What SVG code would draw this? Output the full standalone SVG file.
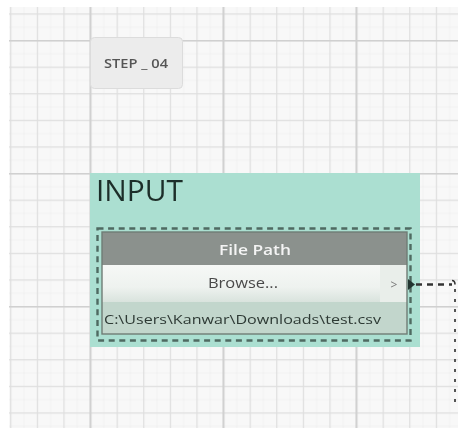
<svg xmlns="http://www.w3.org/2000/svg" width="458" height="428" viewBox="0 0 458 428">
  <defs>
    <pattern id="gridMinor" patternUnits="userSpaceOnUse" x="10.2" y="13.4" width="26.6" height="26.6">
      <path d="M0 13.8H26.6M13.8 0V26.6" fill="none" stroke="#f1f1f1" stroke-width="1"/>
      <path d="M0 0.5H26.6M0.5 0V26.6" fill="none" stroke="#dedede" stroke-width="1.4"/>
    </pattern>
    <pattern id="gridMajor" patternUnits="userSpaceOnUse" x="10.2" y="40" width="133" height="133">
      <path d="M0 0.5H133M80.3 0V133" fill="none" stroke="#d0d0d0" stroke-width="2"/>
    </pattern>
    <linearGradient id="browseFill" x1="0" y1="0" x2="0" y2="1">
      <stop offset="0" stop-color="#f6f8f6"/>
      <stop offset="0.6" stop-color="#eef2ef"/>
      <stop offset="1" stop-color="#d9e3dd"/>
    </linearGradient>
    <filter id="soft" x="-5%" y="-5%" width="110%" height="110%">
      <feGaussianBlur stdDeviation="0.6"/>
    </filter>
  </defs>
  <style>
    .lbl { font-family: "Open Sans", "Liberation Sans", sans-serif; }
    .dash { fill: none; stroke: #4f6a61; stroke-width: 2.4; stroke-dasharray: 6 4.6; }
  </style>

  <!-- canvas -->
  <rect x="0" y="0" width="458" height="428" fill="#ffffff"/>
  <rect x="9" y="7" width="449" height="421" fill="#f8f8f8"/>
  <rect x="9" y="7" width="449" height="421" fill="url(#gridMinor)"/>
  <rect x="9" y="7" width="449" height="421" fill="url(#gridMajor)"/>

  <!-- note -->
  <g id="step-note">
    <rect x="90.5" y="37.5" width="92" height="51" rx="4" fill="#ececec" stroke="#dcdcdc" stroke-width="1"/>
    <text class="lbl" x="104" y="68" font-size="12.5" font-weight="600" fill="#555" textLength="64" lengthAdjust="spacingAndGlyphs" filter="url(#soft)">STEP _ 04</text>
  </g>

  <!-- group -->
  <g id="input-group">
    <rect x="90" y="173" width="330" height="174" fill="#abdfd1"/>
    <text class="lbl" x="96" y="201" font-size="30" fill="#1e2f29" textLength="87" lengthAdjust="spacingAndGlyphs" filter="url(#soft)">INPUT</text>
  </g>

  <!-- node -->
  <g id="file-path-node">
    <rect x="97.5" y="228.5" width="313" height="112" class="dash"/>
    <rect x="102" y="232" width="305" height="33" fill="#8b918d"/>
    <text class="lbl" x="219" y="255" font-size="15" font-weight="600" fill="#f4f4f4" textLength="72" lengthAdjust="spacingAndGlyphs" filter="url(#soft)">File Path</text>
    <rect x="102" y="265" width="305" height="37" fill="url(#browseFill)"/>
    <rect x="380" y="265" width="27" height="37" fill="#e9eeea"/>
    <text class="lbl" x="208" y="288" font-size="14.5" fill="#4a4a4a" textLength="70" lengthAdjust="spacingAndGlyphs" filter="url(#soft)">Browse...</text>
    <text class="lbl" x="394" y="289" font-size="12" fill="#7a7a7a" text-anchor="middle" filter="url(#soft)">&gt;</text>
    <rect x="102" y="302" width="305" height="32" fill="#c2d6cc"/>
    <text class="lbl" x="104" y="324" font-size="12.5" fill="#2e3a35" textLength="277" lengthAdjust="spacingAndGlyphs" filter="url(#soft)">C:\Users\Kanwar\Downloads\test.csv</text>
    <rect x="102" y="232" width="305" height="102" fill="none" stroke="#6f7c75" stroke-width="1.4"/>
  </g>

  <!-- connectors -->
  <g id="connectors">
    <path d="M408 279L415 284.5L408 290Z" fill="#223530"/>
    <path d="M416 284.5H452" fill="none" stroke="#333" stroke-width="2.4" stroke-dasharray="6 5"/>
    <path d="M452 280.5Q455 280.5 455 284.5" fill="none" stroke="#333" stroke-width="1.6"/>
    <path d="M455 289V406" fill="none" stroke="#555" stroke-width="2" stroke-dasharray="3 7"/>
  </g>
</svg>
